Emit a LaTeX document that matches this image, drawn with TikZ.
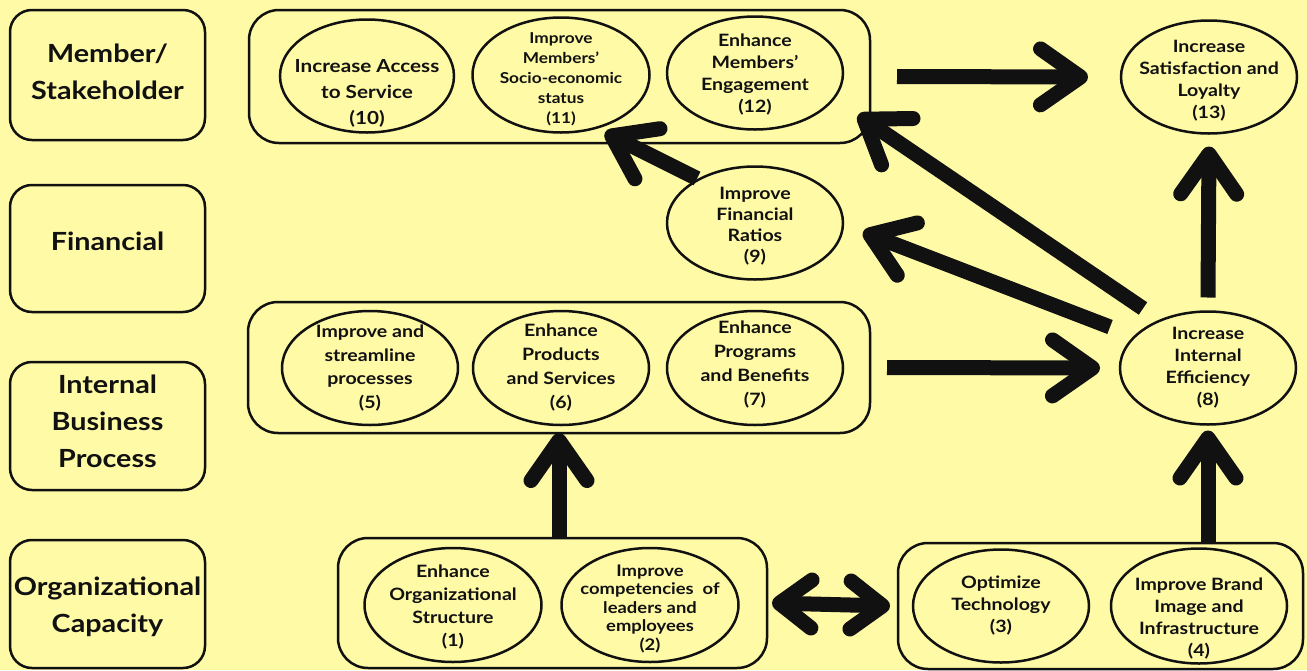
\documentclass[tikz,border=0pt]{standalone}
\usepackage{fontspec}
\setmainfont{Lato}[FakeStretch=1.15]
\usetikzlibrary{shapes.geometric,arrows.meta,calc}
\definecolor{paper}{RGB}{255,250,166}
\definecolor{ink}{RGB}{17,17,17}
\newcommand{\fs}[2]{\bfseries\fontsize{#1}{#2}\selectfont}
\begin{document}
\begin{tikzpicture}[x=1pt,y=-1pt,
  every node/.style={inner sep=0pt, outer sep=0pt},
  lanebox/.style={draw=ink, line width=2.5pt, rounded corners=22pt, minimum width=195pt},
  lanetext/.style={align=center, text=ink, font=\fs{25}{37}},
  group/.style={draw=ink, line width=2.5pt, rounded corners=30pt},
  goal/.style={draw=ink, ellipse, line width=2.5pt, minimum width=176pt, minimum height=114pt},
  goaltext/.style={align=center, text=ink},
  bigarrow/.style={draw=ink, line width=15pt, -{Straight Barb[length=40pt,width=56pt,round]}},
  bothways/.style={draw=ink, line width=15pt, {Straight Barb[length=32pt,width=48pt,round]}-{Straight Barb[length=32pt,width=48pt,round]}},
]
% canvas
\fill[paper] (0,0) rectangle (1307,670);
\useasboundingbox (0,0) rectangle (1307,670);

% perspective labels on the left
\node[lanebox, minimum height=130pt] (L1) at (107.5,75) {};
\node[lanetext] at ([shift={(0,-3.5)}]L1.center) {Member/\\Stakeholder};
\node[lanebox, minimum height=127pt] (L2) at (107.5,248.5) {};
\node[lanetext] at ([shift={(0,-7)}]L2.center) {Financial};
\node[lanebox, minimum height=128pt] (L3) at (107.5,426) {};
\node[lanetext] at ([shift={(0,-5)}]L3.center) {Internal\\Business\\Process};
\node[lanebox, minimum height=128pt] (L4) at (107.5,604) {};
\node[lanetext] at ([shift={(0,3)}]L4.center) {Organizational\\Capacity};

% grouping frames
\node[group, minimum width=621pt, minimum height=133pt] (c1) at (559.5,76.5) {};
\node[group, minimum width=622pt, minimum height=131pt] (c2) at (559,367.5) {};
\node[group, minimum width=429pt, minimum height=130pt] (c4) at (552.5,603) {};
\node[group, minimum width=405pt, minimum height=126pt] (c3) at (1100.5,606) {};

% objectives
\node[goal, minimum width=174pt, minimum height=113pt] (E10) at (367,76) {};
\node[goaltext, font=\fs{18}{26}] at ([shift={(0,17)}]E10.center) {Increase Access\\to Service\\(10)};
\node[goal, minimum width=177pt, minimum height=115pt] (E11) at (561,75) {};
\node[goaltext, font=\fs{15}{20}] at ([shift={(0,4)}]E11.center) {Improve\\Members’\\Socio-economic\\status\\(11)};
\node[goal, minimum height=113pt] (E12) at (755,73) {};
\node[goaltext, font=\fs{17}{22}] at ([shift={(0,1.5)}]E12.center) {Enhance\\Members’\\Engagement\\(12)};
\node[goal, minimum height=113pt] (E13) at (1209,77) {};
\node[goaltext, font=\fs{17}{22}] at ([shift={(0,4)}]E13.center) {Increase\\Satisfaction and\\Loyalty\\(13)};

\node[goal, minimum height=113pt] (E9) at (755,223) {};
\node[goaltext, font=\fs{17}{21}] at ([shift={(0,3)}]E9.center) {Improve\\Financial\\Ratios\\(9)};

\node[goal] (E5) at (370,368) {};
\node[goaltext, font=\fs{17}{23.5}] at (E5.center) {Improve and\\streamline\\processes\\(5)};
\node[goal] (E6) at (561,368) {};
\node[goaltext, font=\fs{17}{24}] at (E6.center) {Enhance\\Products\\and Services\\(6)};
\node[goal] (E7) at (755,368) {};
\node[goaltext, font=\fs{17}{24}] at ([shift={(0,-3)}]E7.center) {Enhance\\Programs\\and Benefits\\(7)};
\node[goal, minimum height=113pt] (E8) at (1208,368) {};
\node[goaltext, font=\fs{17}{22}] at (E8.center) {Increase\\Internal\\Efficiency\\(8)};

\node[goal, minimum width=177pt] (E1) at (453,605) {};
\node[goaltext, font=\fs{17}{23}] at ([shift={(0,2)}]E1.center) {Enhance\\Organizational\\Structure\\(1)};
\node[goal, minimum width=177pt] (E2) at (650,605) {};
\node[goaltext, font=\fs{16}{18.5}] at ([shift={(0,3.5)}]E2.center) {Improve\\competencies\ \ of\\leaders and\\employees\\(2)};
\node[goal, minimum height=113pt] (E3) at (1001,606) {};
\node[goaltext, font=\fs{17}{22}] at (E3.center) {Optimize\\Technology\\(3)};
\node[goal, minimum height=115pt] (E4) at (1199,606) {};
\node[goaltext, font=\fs{17}{22}] at ([shift={(0,13)}]E4.center) {Improve Brand\\Image and\\Infrastructure\\(4)};

% cause-and-effect links
\draw[bigarrow] ([shift={(27,0)}]c1.east) -- ([shift={(-33,0)}]E13.west);
\draw[bigarrow] ([shift={(0,-14)}]E8.north) -- ([shift={(0,13)}]E13.south);
\draw[bigarrow] ([shift={(17,0)}]c2.east) -- ([shift={(-20,0)}]E8.west);
\draw[bigarrow] (E8.south |- c3.north) -- ([shift={(0,6)}]E8.south);
\draw[bigarrow] (c2.south |- c4.north) -- (c2.south);
\draw[bothways] ([shift={(5,0)}]c4.east) -- ([shift={(-8,0)}]c3.west);
\draw[bigarrow] ([shift={(-65,-3)}]E8.north) -- ([shift={(-12,-28)}]c1.south east);
\draw[bigarrow] ([shift={(-10,-41)}]E8.west) -- ([shift={(20,9)}]E9.east);
\draw[bigarrow] ([shift={(-58,12)}]E9.north) -- ([shift={(44,0)}]E11.south);
\end{tikzpicture}
\end{document}
